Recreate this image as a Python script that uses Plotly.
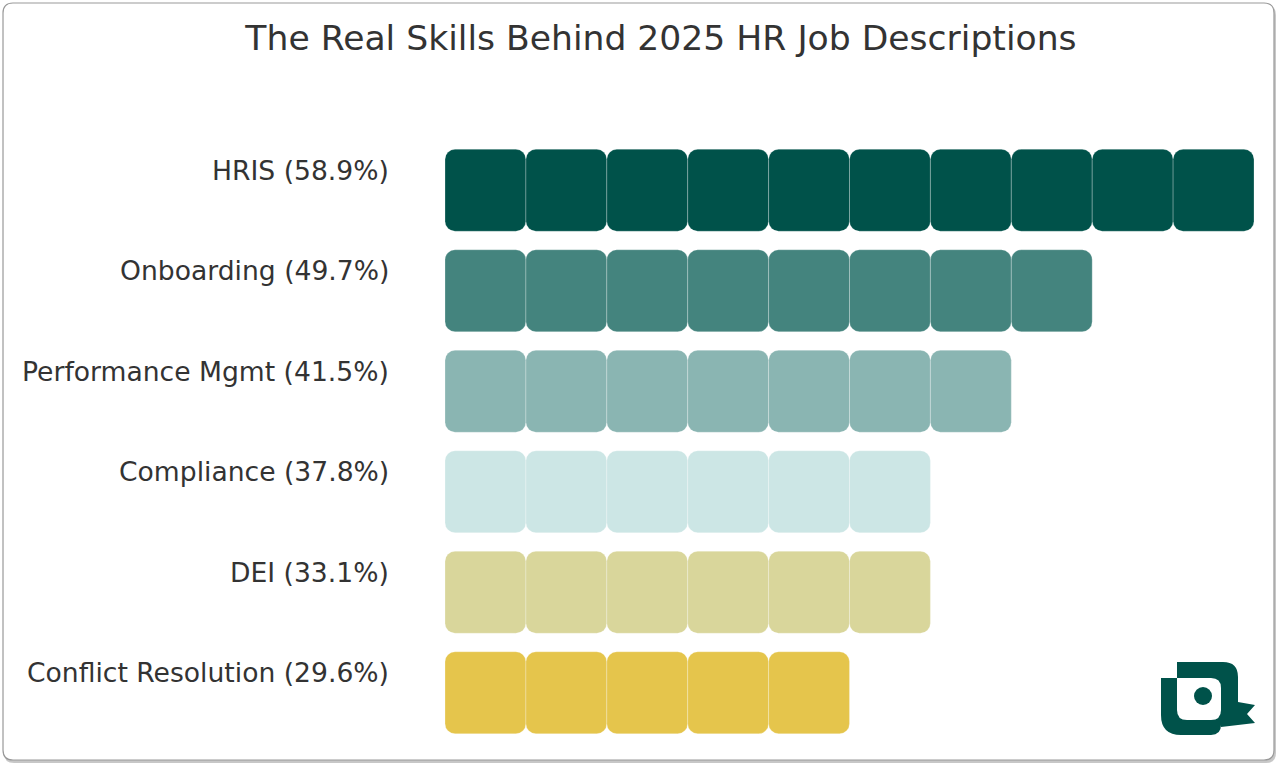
import plotly.graph_objects as go

# ---- data ----
skills = ["HRIS", "Onboarding", "Performance Mgmt", "Compliance", "DEI", "Conflict Resolution"]
shares = [58.9, 49.7, 41.5, 37.8, 33.1, 29.6]
colors = ["#00524A", "#44847E", "#8AB5B2", "#CCE6E5", "#D9D69B", "#E5C54C"]
pct_per_block = 6.0
title_text = "The Real Skills Behind 2025 HR Job Descriptions"

blocks = [int(round(v / pct_per_block)) for v in shares]
labels = [f"{s} ({v:.1f}%)" for s, v in zip(skills, shares)]
max_blocks = max(blocks)

W, H = 1278, 768
ML, MR, MT, MB = 445, 24, 140, 25
PW, PH = W - ML - MR, H - MT - MB

def px(x):
    return (x - ML) / PW

def py(y):
    return (H - MB - y) / PH

def path(cmds):
    out = []
    for c in cmds:
        if c[0] == "Z":
            out.append("Z")
        else:
            op, pts = c[0], c[1:]
            coords = []
            for i in range(0, len(pts), 2):
                coords.append(f"{px(pts[i]):.5f},{py(pts[i+1]):.5f}")
            out.append(op + " " + " ".join(coords))
    return " ".join(out)

def rrect(x0, y0, x1, y1, tl, tr=None, br=None, bl=None):
    tr = tl if tr is None else tr
    br = tl if br is None else br
    bl = tl if bl is None else bl
    return path([
        ("M", x0 + tl, y0), ("L", x1 - tr, y0), ("Q", x1, y0, x1, y0 + tr),
        ("L", x1, y1 - br), ("Q", x1, y1, x1 - br, y1), ("L", x0 + bl, y1),
        ("Q", x0, y1, x0, y1 - bl), ("L", x0, y0 + tl), ("Q", x0, y0, x0 + tl, y0), ("Z",)
    ])

fig = go.Figure()

for j in range(max_blocks):
    idx = [i for i, b in enumerate(blocks) if b > j]
    fig.add_trace(go.Bar(
        orientation="h",
        y=idx,
        x=[1] * len(idx),
        base=[j] * len(idx),
        width=0.816,
        marker=dict(color=[colors[i] for i in idx], cornerradius=10,
                    line=dict(color="rgba(255,255,255,0.5)", width=0.5)),
        hoverinfo="skip",
        showlegend=False,
    ))

annotations = []
for i, lab in enumerate(labels):
    annotations.append(dict(
        x=0, xref="paper", y=i, yref="y", text=lab, showarrow=False,
        xanchor="right", yanchor="middle", xshift=-54, yshift=20,
        font=dict(family="DejaVu Sans", size=26.6, color="#333333"),
    ))

shapes = []
# frame shadow and frame
shapes.append(dict(type="path", xref="paper", yref="paper", layer="below",
                   path=rrect(4, 5, 1276, 763, 10),
                   fillcolor="rgba(0,0,0,0.22)", line=dict(width=0)))
shapes.append(dict(type="path", xref="paper", yref="paper", layer="below",
                   path=rrect(3, 3, 1274, 760, 10),
                   fillcolor="white", line=dict(color="#999999", width=1.2)))

# logo
logo = "#00524A"
shapes.append(dict(type="path", xref="paper", yref="paper", layer="above",
                   path=rrect(1161, 678, 1221, 735, 0, 0, 10, 20),
                   fillcolor=logo, line=dict(width=0)))
shapes.append(dict(type="path", xref="paper", yref="paper", layer="above",
                   path=path([("M", 1177, 662), ("L", 1223, 662), ("Q", 1238, 662, 1238, 677),
                              ("L", 1238, 702), ("L", 1255, 705), ("L", 1247, 714),
                              ("L", 1255, 723), ("L", 1221, 727), ("L", 1221, 678),
                              ("L", 1177, 678), ("Z",)]),
                   fillcolor=logo, line=dict(width=0)))
shapes.append(dict(type="path", xref="paper", yref="paper", layer="above",
                   path=rrect(1177, 678, 1221, 720, 0, 10, 10, 10),
                   fillcolor="white", line=dict(width=0)))
shapes.append(dict(type="circle", xref="paper", yref="paper", layer="above",
                   x0=px(1194), x1=px(1212), y0=py(705), y1=py(687),
                   fillcolor=logo, line=dict(width=0)))

fig.update_layout(
    width=W, height=H,
    margin=dict(l=ML, r=MR, t=MT, b=MB),
    paper_bgcolor="white",
    plot_bgcolor="rgba(0,0,0,0)",
    barmode="overlay",
    title=dict(text=title_text, x=661 / W, xref="container", xanchor="center",
               y=1 - 38 / H, yref="container", yanchor="middle",
               font=dict(family="DejaVu Sans", size=34.6, color="#333333")),
    xaxis=dict(range=[0, max_blocks], visible=False, fixedrange=True),
    yaxis=dict(range=[len(skills) - 0.5, -0.5], visible=False, fixedrange=True),
    annotations=annotations,
    shapes=shapes,
)

fig.write_html("out.html", config={"displayModeBar": False})
